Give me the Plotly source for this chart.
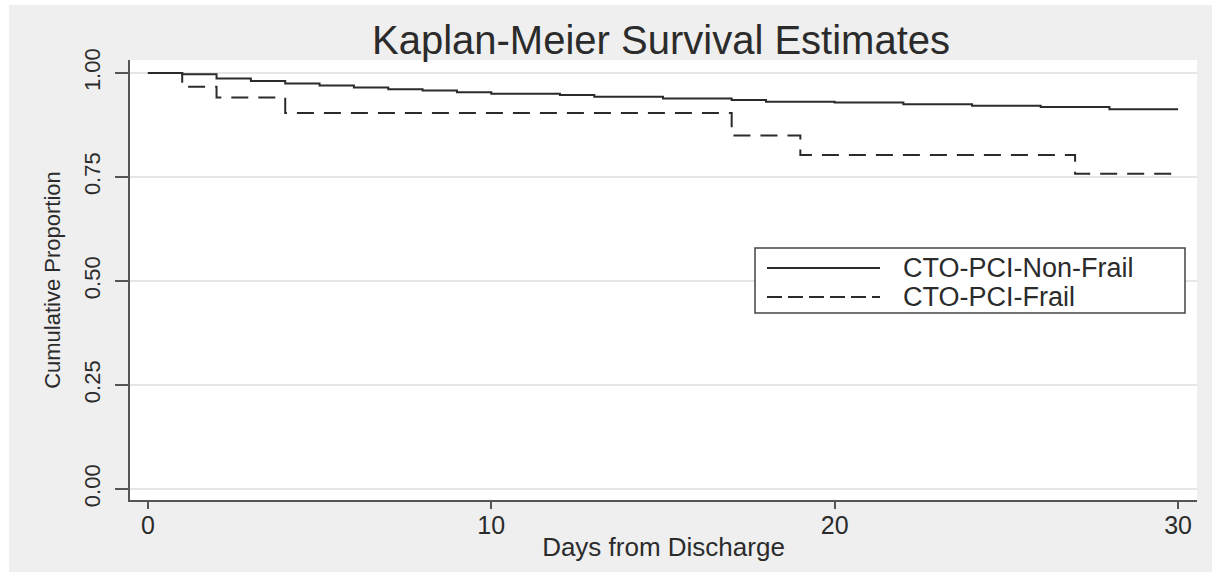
import plotly.graph_objects as go

# Kaplan-Meier step estimates, days 0-30 after discharge
nonfrail_days = [0, 1, 2, 3, 4, 5, 6, 7, 8, 9, 10, 12, 13, 15, 17, 18, 20, 22, 24, 26, 28, 30]
nonfrail_surv = [1.000, 0.997, 0.987, 0.981, 0.975, 0.970, 0.965, 0.961, 0.958, 0.954, 0.950,
                 0.947, 0.943, 0.939, 0.935, 0.931, 0.929, 0.925, 0.921, 0.918, 0.913, 0.913]

frail_days = [0, 1, 2, 4, 17, 19, 27, 30]
frail_surv = [1.000, 0.967, 0.941, 0.904, 0.850, 0.803, 0.758, 0.758]

group_names = ["CTO-PCI-Non-Frail", "CTO-PCI-Frail"]
y_tickvals = [0, 0.25, 0.5, 0.75, 1.0]
y_ticktext = ["0.00", "0.25", "0.50", "0.75", "1.00"]
x_tickvals = [0, 10, 20, 30]

FONT = "Liberation Sans, Arial, Helvetica, sans-serif"
INK = "#2b2b2b"
AXIS = "#555555"
W, H = 1212, 572
L, R, T, B = 130, 15, 60, 72
PW, PH = W - L - R, H - T - B


def px_x(p):
    return (p - L) / PW


def px_y(q):
    return (H - B - q) / PH


styles = [dict(color=INK, width=2, dash="solid"),
          dict(color=INK, width=2, dash="17px,10px")]

fig = go.Figure()
fig.add_trace(go.Scatter(x=nonfrail_days, y=nonfrail_surv, mode="lines",
                         line=dict(shape="hv", **styles[0]), name=group_names[0],
                         showlegend=False))
fig.add_trace(go.Scatter(x=frail_days, y=frail_surv, mode="lines",
                         line=dict(shape="hv", **styles[1]), name=group_names[1],
                         showlegend=False))

shapes = [
    # white strips around the grey panel
    dict(type="rect", xref="paper", yref="paper", x0=px_x(0), x1=px_x(9), y0=px_y(H), y1=px_y(0),
         fillcolor="white", line_width=0, layer="below"),
    dict(type="rect", xref="paper", yref="paper", x0=px_x(0), x1=px_x(W), y0=px_y(5), y1=px_y(0),
         fillcolor="white", line_width=0, layer="below"),
    # legend box
    dict(type="rect", xref="paper", yref="paper", x0=px_x(755), x1=px_x(1185),
         y0=px_y(313), y1=px_y(248), fillcolor="white", line=dict(color="#444444", width=1.5),
         layer="above"),
]
annotations = []
legend_rows = [268, 297]
legend_dash = ["solid", "15px,6px"]
for name, row, st, dsh in zip(group_names, legend_rows, styles, legend_dash):
    shapes.append(dict(type="line", xref="paper", yref="paper", x0=px_x(767), x1=px_x(880),
                       y0=px_y(row), y1=px_y(row),
                       line=dict(color=st["color"], width=st["width"], dash=dsh), layer="above"))
    annotations.append(dict(text=name, xref="paper", yref="paper", x=px_x(901), y=px_y(row),
                            xanchor="left", yanchor="middle", showarrow=False,
                            font=dict(family=FONT, size=27, color=INK)))

fig.update_layout(
    width=W, height=H,
    margin=dict(l=L, r=R, t=T, b=B),
    paper_bgcolor="#efefef",
    plot_bgcolor="white",
    title=dict(text="Kaplan-Meier Survival Estimates", x=(661 - L) / PW, xref="paper",
               y=1 - 40 / H, yref="container", xanchor="center", yanchor="middle",
               font=dict(family=FONT, size=40, color=INK)),
    xaxis=dict(range=[-0.52, 30.55], tickvals=x_tickvals, ticks="outside", ticklen=7,
               tickwidth=2, tickcolor=AXIS, showline=True, linecolor=AXIS, linewidth=2,
               showgrid=False, zeroline=False, ticklabelstandoff=-5,
               tickfont=dict(family=FONT, size=25, color=INK),
               title=dict(text="Days from Discharge", standoff=0,
                          font=dict(family=FONT, size=26, color=INK))),
    yaxis=dict(range=[-0.0264, 1.03125], tickvals=y_tickvals, ticktext=y_ticktext,
               ticks="outside", ticklen=13, tickwidth=2, tickcolor=AXIS, tickangle=-90,
               ticklabelstandoff=6,
               showline=True, linecolor=AXIS, linewidth=2,
               showgrid=True, gridcolor="#e6e6e6", gridwidth=2, zeroline=False,
               tickfont=dict(family=FONT, size=22, color=INK),
               title=dict(text="Cumulative Proportion", standoff=14,
                          font=dict(family=FONT, size=22, color=INK))),
    shapes=shapes,
    annotations=annotations,
    showlegend=False,
)

fig.write_html("out.html")
